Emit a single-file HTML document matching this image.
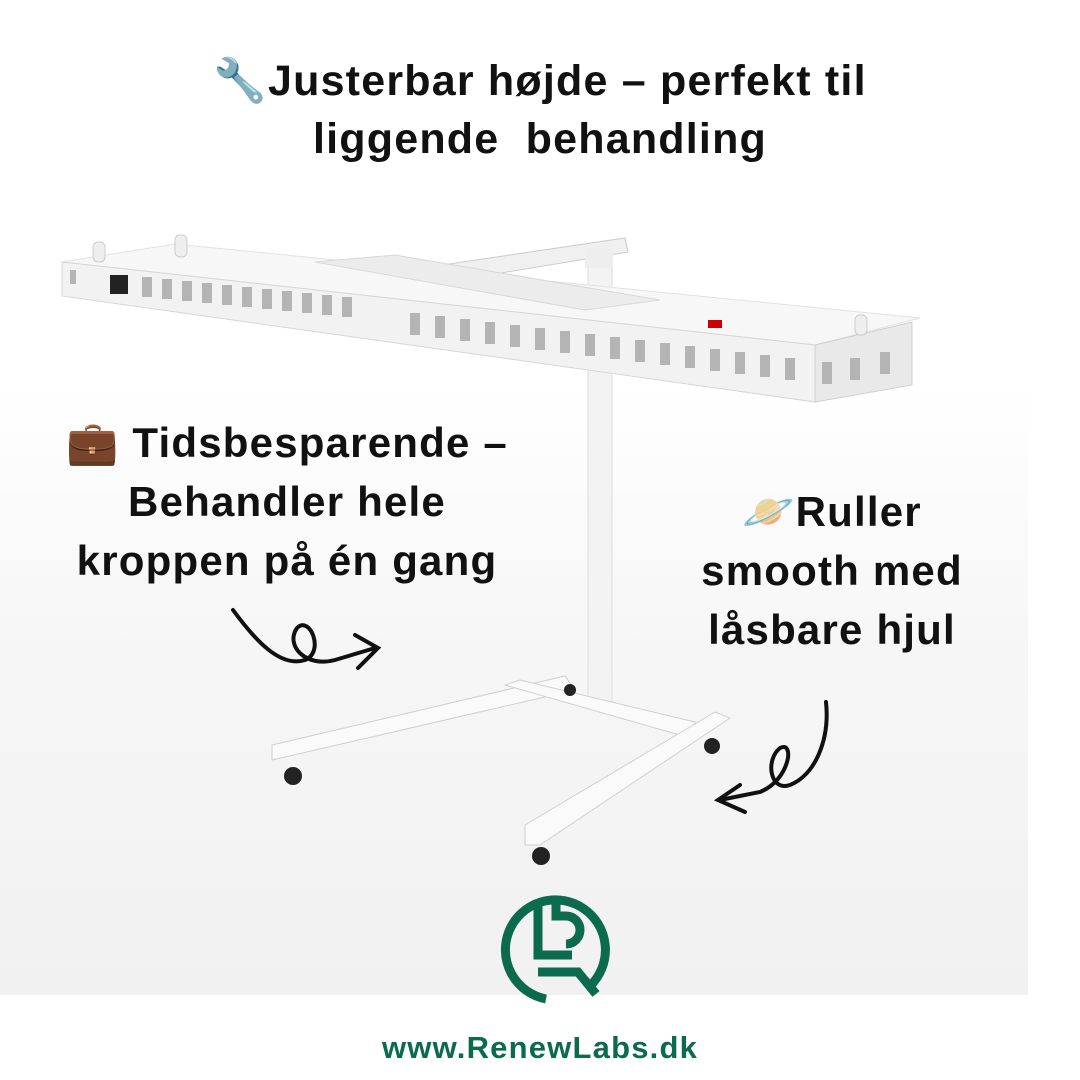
<!DOCTYPE html>
<html><head><meta charset="utf-8"><style>
body{margin:0;width:1080px;height:1080px;overflow:hidden;background:#fff;font-family:"Liberation Sans",sans-serif;}
.t{position:absolute;font-weight:bold;color:#111;text-align:center;white-space:nowrap;letter-spacing:1.2px;}
</style></head><body>
<svg width="1080" height="1080" style="position:absolute;left:0;top:0">
<defs>
<linearGradient id="bg" x1="0" y1="0" x2="0" y2="1"><stop offset="0" stop-color="#fff"/><stop offset="0.45" stop-color="#f6f6f6"/><stop offset="1" stop-color="#f1f1f1"/></linearGradient>
</defs>
<rect x="0" y="380" width="1028" height="615" fill="url(#bg)"/>
<rect x="588" y="262" width="24" height="440" fill="#f3f3f3" stroke="#ddd"/>
<polygon points="395,272 625,238 628,252 398,290" fill="#f0f0f0" stroke="#ccc"/>
<rect x="585" y="248" width="28" height="20" fill="#eee"/>
<polygon points="62,262 175,244 920,318 815,345" fill="#f7f7f7" stroke="#e2e2e2"/>
<polygon points="315,262 395,255 660,300 585,310" fill="#ececec" stroke="#d8d8d8"/>
<polygon points="62,262 815,345 815,402 62,296" fill="#f2f2f2" stroke="#d6d6d6"/>
<polygon points="815,345 912,322 912,385 815,402" fill="#e9e9e9" stroke="#d0d0d0"/>
<rect x="110" y="275" width="18" height="19" fill="#222"/>
<rect x="708" y="320" width="14" height="8" fill="#c00"/>
<g fill="#b4b4b4">
<rect x="70" y="270" width="6" height="14"/>
<rect x="142" y="277" width="10" height="20"/><rect x="162" y="279" width="10" height="20"/><rect x="182" y="281" width="10" height="20"/><rect x="202" y="283" width="10" height="20"/><rect x="222" y="285" width="10" height="20"/><rect x="242" y="287" width="10" height="20"/><rect x="262" y="289" width="10" height="20"/><rect x="282" y="291" width="10" height="20"/><rect x="302" y="293" width="10" height="20"/><rect x="322" y="295" width="10" height="20"/><rect x="342" y="297" width="10" height="20"/>
<rect x="410" y="313" width="10" height="22"/><rect x="435" y="316" width="10" height="22"/><rect x="460" y="319" width="10" height="22"/><rect x="485" y="322" width="10" height="22"/><rect x="510" y="325" width="10" height="22"/><rect x="535" y="328" width="10" height="22"/><rect x="560" y="331" width="10" height="22"/><rect x="585" y="334" width="10" height="22"/><rect x="610" y="337" width="10" height="22"/><rect x="635" y="340" width="10" height="22"/><rect x="660" y="343" width="10" height="22"/><rect x="685" y="346" width="10" height="22"/><rect x="710" y="349" width="10" height="22"/><rect x="735" y="352" width="10" height="22"/><rect x="760" y="355" width="10" height="22"/><rect x="785" y="358" width="10" height="22"/>
<rect x="822" y="362" width="10" height="22"/><rect x="850" y="358" width="10" height="22"/><rect x="880" y="352" width="10" height="22"/>
</g>
<rect x="93" y="242" width="12" height="20" rx="5" fill="#eee" stroke="#ccc"/>
<rect x="175" y="235" width="12" height="22" rx="5" fill="#eee" stroke="#ccc"/>
<rect x="855" y="315" width="12" height="20" rx="5" fill="#eee" stroke="#ccc"/>
<g fill="#fafafa" stroke="#cfcfcf">
<polygon points="272,745 565,676 575,690 272,760"/>
<polygon points="505,685 520,680 695,722 690,738"/>
<polygon points="525,825 715,712 730,718 540,845 525,845"/>
</g>
<g fill="#222">
<circle cx="293" cy="776" r="9"/><circle cx="541" cy="856" r="9"/><circle cx="712" cy="746" r="8"/><circle cx="570" cy="690" r="6"/>
</g>
<g fill="none" stroke="#111" stroke-width="4" stroke-linecap="round">
<path d="M233,610 C255,640 280,668 305,660 C325,652 310,615 297,628 C285,645 305,668 335,660 L375,648"/>
<path d="M355,635 L378,648 L358,668"/>
<path d="M826,702 C830,740 815,775 790,785 C770,792 765,760 780,748 C795,740 790,780 760,792 L720,800"/>
<path d="M740,785 L718,800 L745,812"/>
</g>
<g fill="none" stroke="#0b6b4c" stroke-width="9">
<path d="M546,999 A50,50 0 1 1 590,986"/>
<path d="M538,900 L538,955 L572,955"/>
<path d="M556,898 L556,916 L566,916 A14,14 0 0 1 566,944 M538,972 L578,972 L596,994"/>
</g>
</svg>
<div class="t" style="left:0;width:1080px;top:52px;font-size:43px;line-height:58px">🔧Justerbar højde – perfekt til<br>liggende&nbsp; behandling</div>
<div class="t" style="left:0;width:574px;top:413px;font-size:42px;line-height:59px">💼 Tidsbesparende –<br>Behandler hele<br>kroppen på én gang</div>
<div class="t" style="left:640px;width:384px;top:482px;font-size:42px;line-height:59px">🪐Ruller<br>smooth med<br>låsbare hjul</div>
<div class="t" style="left:0;width:1080px;top:1030px;font-size:31px;color:#0b6b4c">www.RenewLabs.dk</div>
</body></html>
